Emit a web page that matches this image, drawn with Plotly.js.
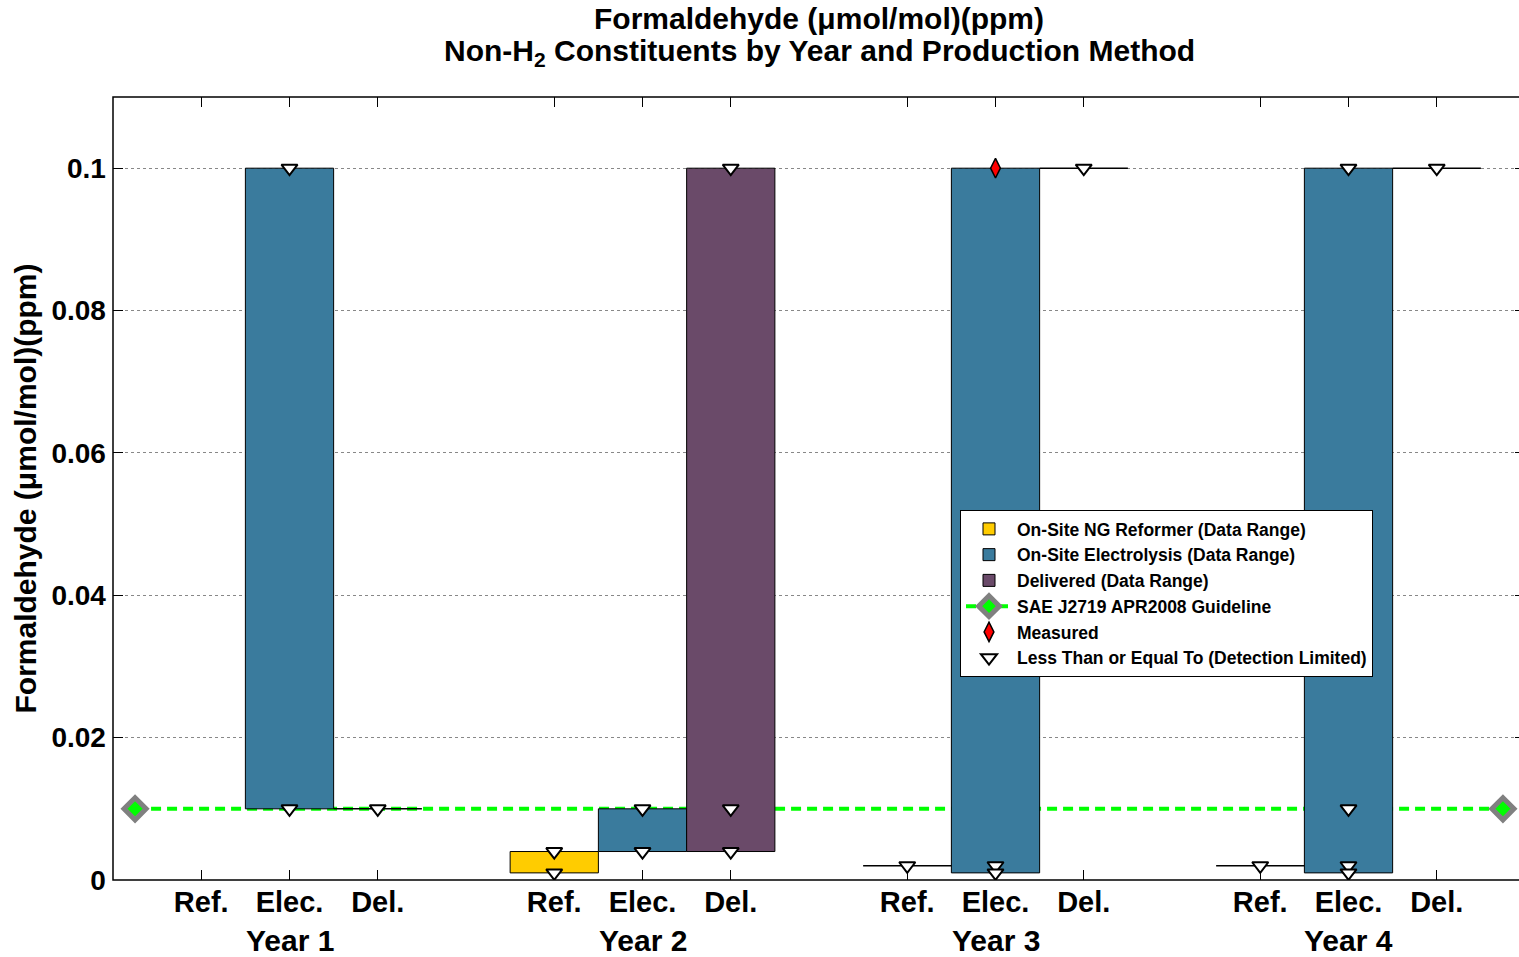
<!DOCTYPE html>
<html><head><meta charset="utf-8">
<script src="https://cdn.plot.ly/plotly-3.0.1.min.js"></script>
<style>html,body{margin:0;padding:0;overflow:hidden;background:#fff}</style>
</head><body><div id="chart"></div><script>
// ---- data ----
const years = ['Year 1', 'Year 2', 'Year 3', 'Year 4'];
const methods = ['Ref.', 'Elec.', 'Del.'];
const reformerMin = [null, 0.001, 0.002, 0.002];
const reformerMax = [null, 0.004, 0.002, 0.002];
const electrolysisMin = [0.01, 0.004, 0.001, 0.001];
const electrolysisMax = [0.1, 0.01, 0.1, 0.1];
const deliveredMin = [0.01, 0.004, 0.1, 0.1];
const deliveredMax = [0.01, 0.1, 0.1, 0.1];
const guideline = 0.01;
const reformerLTE = [[], [0.004, 0.001], [0.002], [0.002]];
const electrolysisLTE = [[0.1, 0.01], [0.01, 0.004], [0.002, 0.001], [0.1, 0.01, 0.002, 0.001]];
const deliveredLTE = [[0.01], [0.1, 0.01, 0.004], [0.1], [0.1]];
const reformerMeasured = [[], [], [], []];
const electrolysisMeasured = [[], [], [0.1], []];
const deliveredMeasured = [[], [], [], []];
const yTicks = [0, 0.02, 0.04, 0.06, 0.08, 0.1];
const yTickText = ['0', '0.02', '0.04', '0.06', '0.08', '0.1'];
const titleLine1 = 'Formaldehyde (\u03bcmol/mol)(ppm)';
const titleLine2 = 'Non-H<sub>2</sub> Constituents by Year and Production Method';
const yTitle = 'Formaldehyde (\u03bcmol/mol)(ppm)';

// ---- styling / layout helpers ----
const FONT = 'Liberation Sans, Arial, sans-serif';
const W = 1530, H = 957, ML = 113, MR = 5, MT = 97, MB = 77;
const PW = W - ML - MR, PH = H - MT - MB;
const xRange = [0, 16];
const yRange = [0, 0.11];
const pos = (yi, mi) => 1 + 4 * yi + mi;
const series = [
  {name: 'On-Site NG Reformer (Data Range)', color: '#FFCC00', min: reformerMin, max: reformerMax, lte: reformerLTE, meas: reformerMeasured, m: 0},
  {name: 'On-Site Electrolysis (Data Range)', color: '#3A7B9D', min: electrolysisMin, max: electrolysisMax, lte: electrolysisLTE, meas: electrolysisMeasured, m: 1},
  {name: 'Delivered (Data Range)', color: '#6A4A69', min: deliveredMin, max: deliveredMax, lte: deliveredLTE, meas: deliveredMeasured, m: 2}
];

const traces = [];
// bars
series.forEach((s, si) => {
  const bx = [], by = [], bb = [];
  years.forEach((yr, yi) => {
    if (s.min[yi] !== null && s.max[yi] > s.min[yi]) {
      bx.push(pos(yi, s.m)); by.push(s.max[yi] - s.min[yi]); bb.push(s.min[yi]);
    }
  });
  traces.push({
    type: 'bar', name: s.name, x: bx, y: by, base: bb, width: 1, legendrank: 1 + si,
    marker: {color: s.color, line: {color: '#000', width: 1}}, zorder: 0, hoverinfo: 'skip'
  });
});
// guideline (drawn beneath bars)
traces.push({
  type: 'scatter', mode: 'lines+markers', name: 'SAE J2719 APR2008 Guideline', legendrank: 10,
  x: [xRange[0] + 0.25, xRange[1] - 0.25], y: [guideline, guideline],
  line: {color: '#00FF00', width: 4, dash: '10px,6px'},
  marker: {symbol: 'diamond', size: 17, color: '#00FF00', line: {color: '#808080', width: 5}},
  zorder: -1, cliponaxis: false, hoverinfo: 'skip'
});
// zero-range lines
series.forEach(s => {
  const lx = [], ly = [];
  years.forEach((yr, yi) => {
    if (s.min[yi] !== null && s.max[yi] === s.min[yi]) {
      const p = pos(yi, s.m);
      lx.push(p - 0.5, p + 0.5, null); ly.push(s.min[yi], s.min[yi], null);
    }
  });
  traces.push({type: 'scatter', mode: 'lines', x: lx, y: ly, showlegend: false,
    line: {color: '#000', width: 1.5}, zorder: 1, hoverinfo: 'skip'});
});
// measured markers
const mx = [], my = [];
series.forEach(s => years.forEach((yr, yi) => s.meas[yi].forEach(v => { mx.push(pos(yi, s.m)); my.push(v); })));
traces.push({type: 'scatter', mode: 'markers', name: 'Measured', x: mx, y: my, legendrank: 11,
  marker: {symbol: 'diamond-tall', size: 14, color: '#FF0000', line: {color: '#000', width: 1.5}},
  zorder: 2, cliponaxis: false, hoverinfo: 'skip'});
// detection-limited markers
const tx = [], ty = [];
series.forEach(s => years.forEach((yr, yi) => s.lte[yi].forEach(v => { tx.push(pos(yi, s.m)); ty.push(v); })));
traces.push({type: 'scatter', mode: 'markers', name: 'Less Than or Equal To (Detection Limited)', x: tx, y: ty, legendrank: 12,
  marker: {symbol: 'triangle-down', size: 14, color: '#FFFFFF', line: {color: '#000', width: 2}},
  zorder: 2, cliponaxis: false, hoverinfo: 'skip'});

// tick positions / texts
const tickVals = [], tickText = [];
years.forEach((yr, yi) => methods.forEach((m, mi) => { tickVals.push(pos(yi, mi)); tickText.push(m); }));
const annotations = years.map((yr, yi) => ({
  text: yr, x: pos(yi, 1), xref: 'x', y: -(940 - (MT + PH)) / PH, yref: 'paper', xanchor: 'center', yanchor: 'middle',
  showarrow: false, font: {family: FONT, size: 30, weight: 700, color: '#000'}
}));
annotations.push({
  text: titleLine2, x: 0.5, xref: 'paper', y: (MT + PH - 53) / PH, yref: 'paper',
  xanchor: 'center', yanchor: 'middle', showarrow: false,
  font: {family: FONT, size: 30, weight: 700, color: '#000'}
});

const layout = {
  width: W, height: H,
  margin: {l: ML, r: MR, t: MT, b: MB},
  paper_bgcolor: '#fff', plot_bgcolor: '#fff',
  title: {text: titleLine1,
    font: {family: FONT, size: 30, weight: 700, color: '#000'}, x: 0.5, xref: 'paper', xanchor: 'center',
    y: 1 - 18 / H, yref: 'container', yanchor: 'middle'},
  xaxis: {range: xRange, tickmode: 'array', tickvals: tickVals, ticktext: tickText, ticks: 'inside', ticklen: 10,
    tickcolor: '#000', tickwidth: 1, showline: true, linecolor: '#000', linewidth: 1.5, mirror: 'ticks',
    ticklabelstandoff: -4,
    showgrid: false, zeroline: false, tickfont: {family: FONT, size: 29, weight: 700, color: '#000'}, fixedrange: true},
  yaxis: {range: yRange, tickmode: 'array', tickvals: yTicks, ticktext: yTickText, ticks: 'inside', ticklen: 10,
    tickcolor: '#000', tickwidth: 1, showline: true, linecolor: '#000', linewidth: 1.5, mirror: 'ticks',
    showgrid: true, gridcolor: '#888', griddash: 'dot', gridwidth: 1, zeroline: false,
    tickfont: {family: FONT, size: 28, weight: 700, color: '#000'}, fixedrange: true,
    title: {text: yTitle, font: {family: FONT, size: 30, weight: 700, color: '#000'}, standoff: 6}},
  legend: {x: (960 - ML) / PW, y: (MT + PH - 510) / PH, xanchor: 'left', yanchor: 'top', bgcolor: '#fff',
    bordercolor: '#000', borderwidth: 1, itemwidth: 46,
    font: {family: FONT, size: 17.5, weight: 700, color: '#000'}, tracegroupgap: 0, traceorder: 'normal'},
  barmode: 'overlay',
  showlegend: true,
  annotations: annotations,
  shapes: [{type: 'rect', xref: 'paper', yref: 'paper', x0: 0, x1: 1, y0: 0, y1: 1,
    line: {color: '#000', width: 1.5}, fillcolor: 'rgba(0,0,0,0)', layer: 'below'}]
};

Plotly.newPlot('chart', traces, layout, {displayModeBar: false, staticPlot: true});
</script></body></html>
